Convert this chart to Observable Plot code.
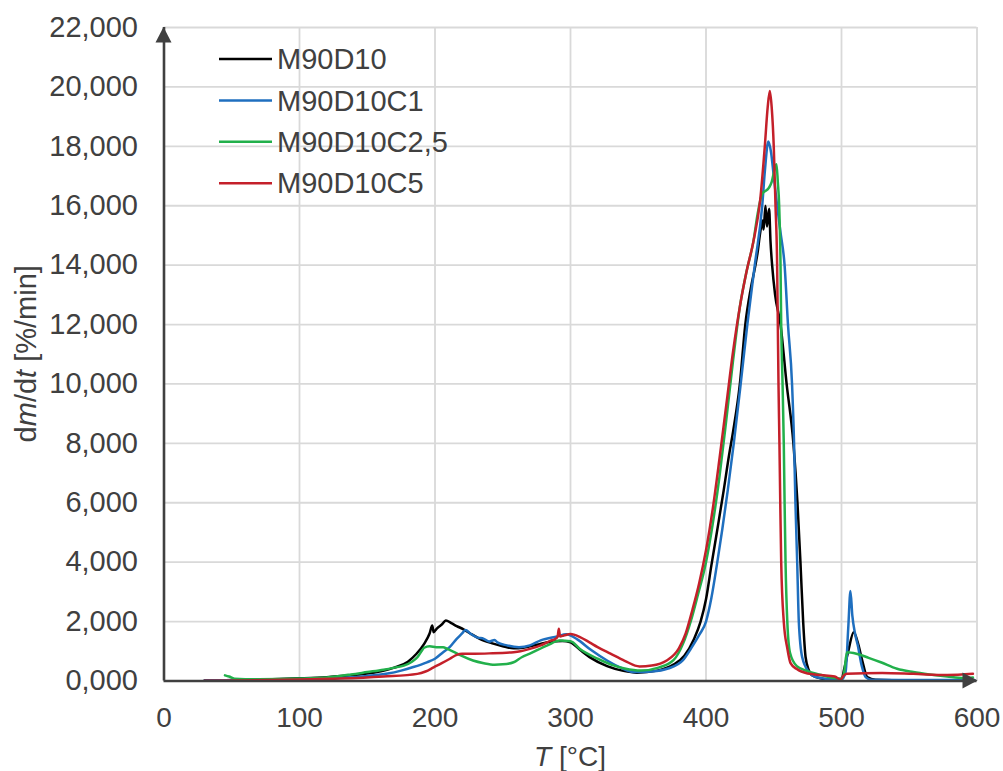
<!DOCTYPE html>
<html><head><meta charset="utf-8">
<script src="https://cdn.jsdelivr.net/npm/d3@7"></script>
<script src="https://cdn.jsdelivr.net/npm/@observablehq/plot@0.6"></script>
<style>body{margin:0;background:#fff}#chart{width:1003px;height:771px}</style>
</head><body><div id="chart"></div>
<script>
const seriesNames = ["M90D10", "M90D10C1", "M90D10C2,5", "M90D10C5"];
const seriesColors = ["#000000", "#1f6fbf", "#22b04b", "#c4202a"];
const xTicks = [0, 100, 200, 300, 400, 500, 600];
const yTicks = [0, 2, 4, 6, 8, 10, 12, 14, 16, 18, 20, 22];

// [T (°C), dm/dt (%/min)]
const m90d10 = [[30,0.02],[50,0.03],[80,0.06],[100,0.09],[120,0.13],[140,0.2],[150,0.25],[160,0.33],[170,0.45],[180,0.65],[186,0.9],[192,1.25],[196,1.6],[198,1.87],[199,1.64],[201,1.75],[203,1.83],[205,1.9],[208,2.04],[212,1.95],[216,1.85],[221,1.74],[226,1.6],[233,1.42],[243,1.26],[250,1.17],[258,1.1],[265,1.12],[275,1.22],[285,1.32],[294,1.35],[300,1.3],[307,1.05],[315,0.78],[327,0.5],[339,0.34],[349,0.28],[364,0.35],[376,0.55],[384,0.85],[391,1.4],[396,2.0],[400,2.75],[404,3.9],[408,5.0],[413,6.4],[417,7.6],[420,8.4],[425,10],[429,12],[433,13.2],[436.5,14],[438,14.4],[440,15.1],[441.7,15.5],[442.5,15.2],[443.9,16.0],[445,15.3],[446.6,15.9],[447.6,14.8],[448.8,14],[451,13],[455,12],[459.5,10],[464.5,8],[467.5,6],[469.7,4],[471.7,2],[473.5,0.8],[476,0.35],[478,0.2],[485,0.08],[495,0.04],[500,0.05],[502,0.4],[505,1.0],[509,1.64],[512,1.3],[515.3,0.69],[519,0.13],[525,0.04],[550,0.02],[598,0.02]];
const m90d10c1 = [[30,0.02],[60,0.03],[100,0.06],[130,0.1],[150,0.17],[165,0.25],[175,0.35],[184,0.47],[194,0.63],[200,0.75],[206,0.97],[211,1.15],[216,1.42],[220,1.6],[222.5,1.72],[226,1.6],[231,1.47],[236,1.42],[240,1.33],[244,1.38],[246,1.3],[253,1.2],[262,1.14],[270,1.2],[278,1.37],[290,1.5],[297,1.57],[305,1.4],[315,1.05],[327,0.69],[337,0.45],[347,0.3],[360,0.32],[372,0.42],[383,0.7],[389,1.1],[395,1.55],[400,2.0],[404,2.8],[408,3.9],[412,5.1],[416,6.4],[420.5,8],[425.6,10],[430.5,12],[436,14],[441.5,16],[443.5,17.2],[446,18.16],[448,17.8],[450,17],[452.5,16],[455,15.1],[458,14],[460.5,12],[463.5,10],[465,8],[466,6],[467.3,4],[468.5,2],[471,0.8],[476,0.3],[480,0.15],[490,0.07],[500,0.05],[503,0.3],[505,1.8],[506.6,3.03],[508,2.2],[510,1.6],[512,1.2],[515,0.5],[518,0.12],[522,0.04],[550,0.03],[598,0.03]];
const m90d10c25 = [[45,0.19],[48,0.15],[52,0.08],[70,0.06],[100,0.08],[120,0.12],[138,0.22],[150,0.3],[162,0.38],[170,0.45],[177,0.52],[183,0.65],[187,0.8],[190,1.0],[192,1.12],[196,1.17],[201,1.14],[206,1.14],[209,1.08],[213,1.0],[219,0.86],[228,0.69],[236,0.6],[244,0.55],[250,0.56],[258,0.63],[264,0.8],[270,0.92],[283,1.2],[292,1.36],[300,1.34],[307,1.08],[320,0.75],[330,0.55],[340,0.42],[352,0.35],[365,0.45],[376,0.7],[383,1.25],[389,2.05],[394,2.9],[400,4.0],[405,5.3],[410,6.9],[415,8.8],[420,10.8],[425,12.6],[430,13.8],[435,14.8],[438,15.7],[441.5,16.4],[446.4,16.6],[448.5,16.8],[450.5,17.2],[452,17.4],[453,16.8],[454,16],[455,14],[455.5,12],[456.5,10],[457.4,8],[458,6],[458.7,4],[460,2],[462,0.95],[467,0.5],[475,0.33],[485,0.2],[495,0.1],[500,0.08],[502,0.3],[504,0.97],[511,0.92],[520,0.78],[529,0.63],[541,0.41],[553,0.3],[565,0.22],[578,0.15],[590,0.1],[597,0.12]];
const m90d10c5 = [[30,0.01],[60,0.02],[100,0.05],[130,0.08],[162,0.15],[187,0.24],[193,0.32],[199,0.46],[205,0.6],[211,0.75],[216,0.88],[220,0.92],[229,0.92],[240,0.93],[258,0.97],[263,1.0],[270,1.08],[278,1.2],[285,1.35],[289,1.42],[290.5,1.5],[291.4,1.76],[292.3,1.5],[295,1.53],[300,1.58],[307,1.48],[314,1.3],[320,1.14],[329.5,0.92],[340,0.68],[351,0.49],[360,0.52],[371,0.69],[380,1.1],[385,1.6],[390,2.4],[395,3.3],[400,4.4],[405,5.8],[410,7.5],[415,9.3],[420,11.1],[425,12.6],[430,13.8],[435,14.8],[440,16.2],[443.4,18],[445.5,19.3],[447.1,19.86],[448.5,19.3],[450,18],[451.3,16],[452.5,14],[453,12],[453.5,10],[454.2,8],[454.8,6],[455.5,4],[457.4,2],[460,1.1],[462.4,0.6],[467,0.4],[475,0.25],[485,0.2],[495,0.15],[499.3,0.05],[502,0.2],[504,0.24],[530,0.27],[553,0.24],[578,0.2],[597,0.24]];

const seriesData = [m90d10, m90d10c1, m90d10c25, m90d10c5];
const data = seriesData.flatMap((arr, i) => arr.map(([T, v]) => ({series: seriesNames[i], T, v})));

const W = 1003, H = 771;
const axisColor = "#404040";
const gridColor = "#d9d9d9";
const fontFam = "'Liberation Sans', Arial, sans-serif";
const fmtY = d => d.toFixed(3).replace(".", ",");

const plot = Plot.plot({
  width: W, height: H,
  marginLeft: 163.5, marginRight: 26.5, marginTop: 27, marginBottom: 90.5,
  style: {fontFamily: fontFam, fontSize: "28px", color: axisColor, background: "#fff", overflow: "visible"},
  x: {domain: [0, 600], label: null},
  y: {domain: [0, 22], label: null},
  color: {domain: seriesNames, range: seriesColors},
  marks: [
    Plot.gridX(xTicks.slice(1), {stroke: gridColor, strokeOpacity: 1, strokeWidth: 1.8}),
    Plot.gridY(yTicks.slice(1), {stroke: gridColor, strokeOpacity: 1, strokeWidth: 1.8}),
    Plot.axisX(xTicks, {tickSize: 0, tickPadding: 26, tickFormat: d => String(d), fontSize: 28, label: null}),
    Plot.axisY(yTicks, {tickSize: 0, tickPadding: 26, tickFormat: fmtY, fontSize: 29, label: null}),
    Plot.line(data, {x: "T", y: "v", z: "series", stroke: "series", strokeWidth: 2.5, curve: "monotone-x"}),
    Plot.ruleY([0], {stroke: axisColor, strokeWidth: 2.6}),
    Plot.ruleX([0], {stroke: axisColor, strokeWidth: 2.6})
  ]
});
document.getElementById("chart").appendChild(plot);

const sx = plot.scale("x"), sy = plot.scale("y");
const svg = d3.select(plot);
const x0 = sx.apply(0), x1 = sx.apply(600), y0 = sy.apply(0), y1 = sy.apply(22);

// axis arrowheads
svg.append("path").attr("fill", axisColor)
  .attr("d", `M${x0},${y1} L${x0 - 8},${y1 + 15.5} L${x0 + 8},${y1 + 15.5} Z`);
svg.append("path").attr("fill", axisColor)
  .attr("d", `M${x1 + 1},${y0} L${x1 - 14},${y0 - 8} L${x1 - 14},${y0 + 8} Z`);

// axis titles
const xt = svg.append("text").attr("x", sx.apply(300)).attr("y", 766)
  .attr("text-anchor", "middle").attr("fill", axisColor).attr("font-size", 28).attr("font-family", fontFam);
xt.append("tspan").attr("font-style", "italic").text("T");
xt.append("tspan").text(" [°C]");

const yt = svg.append("text").attr("transform", `translate(36,${(y0 + y1) / 2}) rotate(-90)`)
  .attr("text-anchor", "middle").attr("fill", axisColor).attr("font-size", 29).attr("font-family", fontFam);
yt.append("tspan").text("d");
yt.append("tspan").attr("font-style", "italic").text("m");
yt.append("tspan").text("/d");
yt.append("tspan").attr("font-style", "italic").text("t");
yt.append("tspan").text(" [%/min]");

// legend
const lg = svg.append("g");
seriesNames.forEach((name, i) => {
  const yy = 59 + 41.4 * i;
  lg.append("line").attr("x1", 219).attr("x2", 272).attr("y1", yy).attr("y2", yy)
    .attr("stroke", seriesColors[i]).attr("stroke-width", 2.5);
  lg.append("text").attr("x", 277).attr("y", yy).attr("dy", "0.35em").attr("text-anchor", "start")
    .attr("fill", axisColor).attr("font-size", 29).attr("font-family", fontFam).text(name);
});
</script>
</body></html>
